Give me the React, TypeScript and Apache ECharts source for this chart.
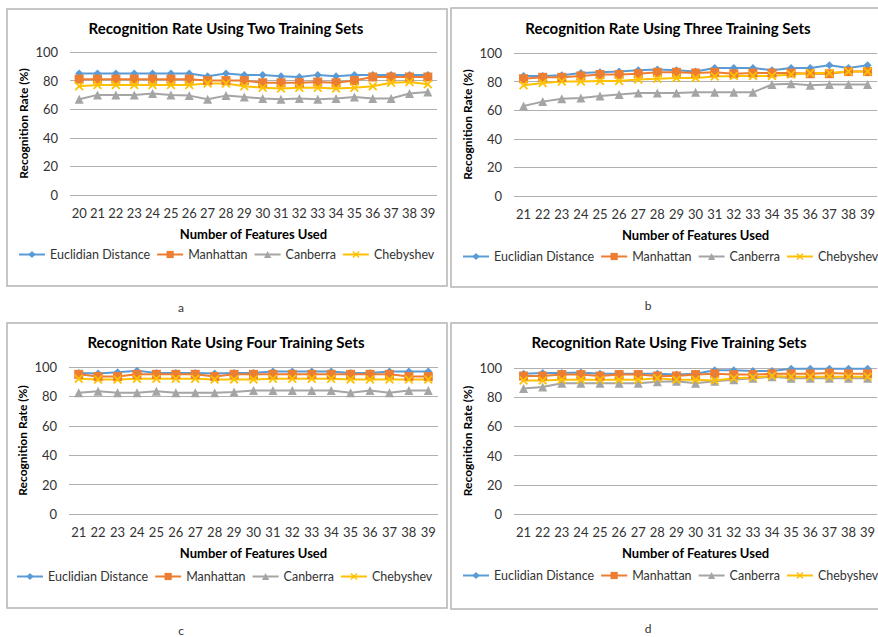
import React, { useEffect, useRef } from "react";
import * as echarts from "echarts";

const catsA = ["20", "21", "22", "23", "24", "25", "26", "27", "28", "29", "30", "31", "32", "33", "34", "35", "36", "37", "38", "39"];
const catsB = ["21", "22", "23", "24", "25", "26", "27", "28", "29", "30", "31", "32", "33", "34", "35", "36", "37", "38", "39"];

const titles = [
  "Recognition Rate Using Two Training Sets",
  "Recognition Rate Using Three Training Sets",
  "Recognition Rate Using Four Training Sets",
  "Recognition Rate Using Five Training Sets",
];
const panelLetters = ["a", "b", "c", "d"];
const seriesNames = ["Euclidian Distance", "Manhattan", "Canberra", "Chebyshev"];
const yTicks = [0, 20, 40, 60, 80, 100];

// Panel a (two training sets)
const euclidA = [85, 85, 85, 85, 85, 85, 85, 83, 85, 84, 84, 83, 82.5, 84, 83, 84, 84, 84, 84, 84];
const manhattanA = [81, 81, 81, 81, 81, 81, 81, 80, 80, 80, 78.5, 78.5, 78.5, 79, 78.5, 80, 82.5, 82.5, 82.5, 82.5];
const canberraA = [67, 70, 70, 70, 71, 70, 69.5, 67, 69.5, 68.5, 67.5, 67, 67.5, 67, 67.5, 68.5, 67.5, 67.5, 71, 72];
const chebyshevA = [76, 77, 77, 77, 77, 77, 77, 78, 78, 76, 75, 74.5, 75, 75, 74.5, 75, 76, 78.5, 79, 77.5];

// Panel b (three training sets)
const euclidB = [84, 84, 84.5, 86, 86.5, 87, 88, 88.5, 88, 87, 89.5, 89.5, 89.5, 88, 89.5, 89.5, 91.5, 89.5, 91.5];
const manhattanB = [82, 83, 83, 84, 85, 85, 85.5, 86.5, 86.5, 86, 86.5, 85.5, 86, 86, 86, 85.5, 85.5, 87, 87];
const canberraB = [63, 66, 68, 68.5, 70, 71, 72, 72, 72, 72.5, 72.5, 72.5, 72.5, 78, 78.5, 77.5, 78, 78, 78];
const chebyshevB = [77.5, 79, 80, 80, 80.5, 80.5, 81.5, 82, 82.5, 82.5, 83.5, 84, 84, 84, 85, 86, 86, 87, 87];

// Panel c (four training sets)
const euclidC = [96, 95.5, 96.5, 97.5, 96, 96, 96, 95.5, 96, 96, 97, 97, 97, 97, 96, 96, 97, 97, 97];
const manhattanC = [95, 93.5, 93.5, 95, 95, 95, 95, 93.5, 95, 95, 95, 95, 95, 95, 95, 95, 95, 93.5, 93.5];
const canberraC = [82.5, 83.5, 82.5, 82.5, 83.5, 82.5, 82.5, 82.5, 83, 84, 84, 84, 84, 84, 82.5, 84, 82.5, 84, 84];
const chebyshevC = [92, 91.5, 91.5, 92, 92, 92, 92, 91.5, 91.5, 91.5, 92, 92, 92, 92, 91.5, 91.5, 91.5, 91.5, 91.5];

// Panel d (five training sets)
const euclidD = [96, 96.5, 96.5, 97, 96, 96, 96, 96, 95.5, 96, 98.5, 98.5, 98, 98, 99.5, 99.5, 99.5, 99.5, 99.5];
const manhattanD = [94.5, 94.5, 95.5, 95.5, 94.5, 95.5, 95.5, 94.5, 94.5, 95.5, 96, 95.5, 95.5, 96, 96, 96, 96.5, 96, 96];
const canberraD = [86, 87, 89.5, 89.5, 89.5, 89.5, 89.5, 90.5, 91, 89.5, 91, 92, 93, 94, 93, 93, 93, 93, 93];
const chebyshevD = [91.5, 91.5, 92, 92, 92, 92, 92, 93, 92, 92, 91.5, 93, 93.5, 94.5, 94, 94, 94, 94, 94];

const FONT = 'Lato, "Liberation Sans", sans-serif';
const COLORS = ["#5B9BD5", "#ED7D31", "#A5A5A5", "#FFC000"];
const XSYM = "path://M0,1.4 L1.4,0 L5,3.6 L8.6,0 L10,1.4 L6.4,5 L10,8.6 L8.6,10 L5,6.4 L1.4,10 L0,8.6 L3.6,5 Z";
const SYMBOLS = ["diamond", "rect", "triangle", XSYM];
const SYMSIZE = [8, 9, 9, 9];

const panelData = [
  { cats: catsA, vals: [euclidA, manhattanA, canberraA, chebyshevA] },
  { cats: catsB, vals: [euclidB, manhattanB, canberraB, chebyshevB] },
  { cats: catsB, vals: [euclidC, manhattanC, canberraC, chebyshevC] },
  { cats: catsB, vals: [euclidD, manhattanD, canberraD, chebyshevD] },
];

// layout
const grids = [
  { left: 70, top: 52, width: 367, height: 143 },
  { left: 514, top: 53, width: 368, height: 143 },
  { left: 69, top: 367, width: 369, height: 147 },
  { left: 514, top: 368, width: 369, height: 146 },
];
const titlePos = [
  { x: 226, y: 20 },
  { x: 668, y: 20 },
  { x: 226, y: 334 },
  { x: 669, y: 334 },
];
const legendPos = [
  { left: 18, top: 248 },
  { left: 462, top: 250 },
  { left: 16, top: 570 },
  { left: 462, top: 569 },
];
const boxes = [
  { x: 7, y: 9, w: 440, h: 277 },
  { x: 451, y: 8, w: 440, h: 279 },
  { x: 7, y: 323, w: 440, h: 285 },
  { x: 451, y: 323, w: 440, h: 286 },
];
const letterPos = [
  { x: 181, y: 307 },
  { x: 648, y: 305 },
  { x: 181, y: 630 },
  { x: 648, y: 628 },
];

export default function App() {
  const ref = useRef<HTMLDivElement>(null);
  useEffect(() => {
    if (!ref.current) return;
    const chart = echarts.init(ref.current, undefined, { renderer: "svg" });

    const series: any[] = [];
    panelData.forEach((p, gi) => {
      p.vals.forEach((v, si) => {
        series.push({
          type: "line",
          name: seriesNames[si],
          xAxisIndex: gi,
          yAxisIndex: gi,
          data: v,
          symbol: SYMBOLS[si],
          symbolSize: SYMSIZE[si],
          showAllSymbol: true,
          lineStyle: { color: COLORS[si], width: 2 },
          itemStyle: { color: COLORS[si] },
          emphasis: { disabled: true },
        });
      });
    });

    chart.setOption({
      animation: false,
      textStyle: { fontFamily: FONT },
      title: titles.map((t, i) => ({
        text: t,
        left: titlePos[i].x,
        top: titlePos[i].y,
        textAlign: "center",
        padding: 0,
        textStyle: { fontFamily: FONT, fontSize: 15, fontWeight: "bold", color: "#000" },
      })),
      legend: legendPos.map((lp) => ({
        data: seriesNames,
        left: lp.left,
        top: lp.top,
        width: 700,
        padding: 0,
        itemGap: 6,
        itemWidth: 26,
        itemHeight: 9,
        selectedMode: false,
        textStyle: { fontFamily: FONT, fontSize: 12.5, color: "#333" },
      })),
      grid: grids.map((g) => ({ ...g, containLabel: false })),
      xAxis: panelData.map((p, i) => ({
        type: "category",
        gridIndex: i,
        data: p.cats,
        boundaryGap: true,
        axisLine: { show: false },
        axisTick: { show: false },
        axisLabel: { interval: 0, fontSize: 13, margin: 11, color: "#333", fontFamily: FONT },
        name: "Number of Features Used",
        nameLocation: "middle",
        nameGap: 32,
        nameTextStyle: { fontFamily: FONT, fontSize: 13, fontWeight: "bold", color: "#000" },
      })),
      yAxis: panelData.map((_, i) => ({
        type: "value",
        gridIndex: i,
        min: yTicks[0],
        max: yTicks[yTicks.length - 1],
        interval: yTicks[1] - yTicks[0],
        axisLine: { show: false },
        axisTick: { show: false },
        splitLine: { lineStyle: { color: "#b0b0b0", width: 1 } },
        axisLabel: { fontSize: 13, margin: 12, color: "#333", fontFamily: FONT },
        name: "Recognition Rate (%)",
        nameLocation: "middle",
        nameGap: 41,
        nameTextStyle: { fontFamily: FONT, fontSize: 12, fontWeight: "bold", color: "#000" },
      })),
      graphic: [
        ...boxes.map((b) => ({
          type: "rect",
          shape: { x: b.x, y: b.y, width: b.w, height: b.h },
          style: { fill: "none", stroke: "#b4b4b4", lineWidth: 1.5 },
          silent: true,
          z: -1,
        })),
        ...letterPos.map((lp, i) => ({
          type: "text",
          x: lp.x,
          y: lp.y,
          style: {
            text: panelLetters[i],
            fontSize: 12,
            fontFamily: FONT,
            fill: "#333",
            align: "center",
            verticalAlign: "middle",
            textAlign: "center",
            textVerticalAlign: "middle",
          },
        })),
      ],
      series,
    });
    return () => chart.dispose();
  }, []);
  return (
    <div
      ref={ref}
      style={{ position: "fixed", left: 0, top: 0, width: 878, height: 637, background: "#fff" }}
    />
  );
}
